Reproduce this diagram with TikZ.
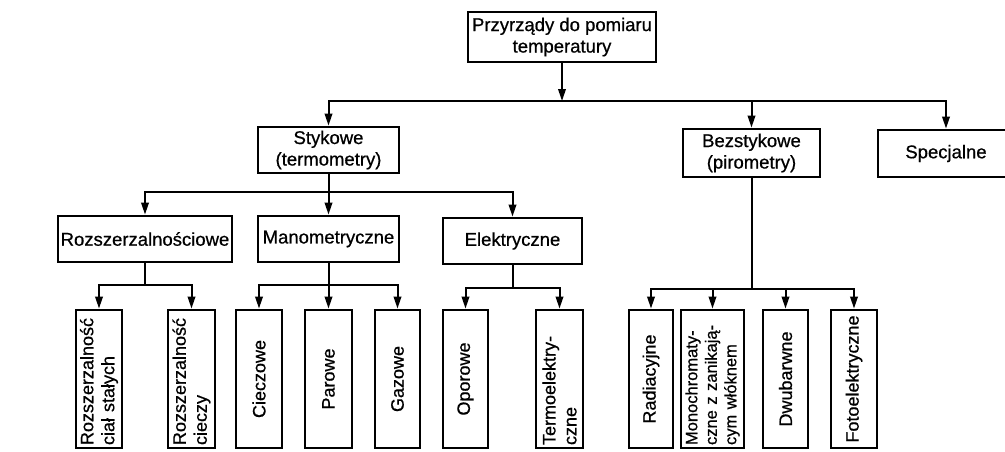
\documentclass[tikz,border=0pt]{standalone}
\usepackage{fontspec}
\setmainfont{Liberation Sans}[FakeBold=0.7]
\usetikzlibrary{arrows.meta}
\begin{document}
\begin{tikzpicture}[x=1pt,y=-1pt,
  hbox/.style={draw, line width=2.8pt, align=center, inner sep=2pt, font=\fontsize{18.5}{21.5}\selectfont},
  vbox/.style={draw, line width=2.8pt, rotate=90, minimum width=138pt, inner sep=1.5pt, font=\fontsize{18}{21}\selectfont},
  vboxl/.style={vbox, align=left, text width=132pt},
  link/.style={line width=2pt},
  arr/.style={link, -{Triangle[length=12pt,width=7.5pt]}}]
\clip (0,0) rectangle (1005,451);
\fill[white] (0,0) rectangle (1005,451);
% level 0-1
\node[hbox, minimum width=188pt, minimum height=50pt] (top) at (562,37) {Przyrządy do pomiaru\\temperatury};
\node[hbox, minimum width=141pt, minimum height=46pt] (styk) at (328.5,150) {Stykowe\\(termometry)};
\node[hbox, minimum width=137pt, minimum height=48pt] (bez) at (751.5,153) {Bezstykowe\\(pirometry)};
\node[hbox, minimum width=136pt, minimum height=47pt] (spec) at (946,153.5) {Specjalne};
% level 2
\node[hbox, minimum width=174pt, minimum height=46pt] (rozs) at (145,239) {Rozszerzalnościowe};
\node[hbox, minimum width=141pt, minimum height=46pt] (mano) at (328.5,239) {Manometryczne};
\node[hbox, minimum width=139pt, minimum height=46pt] (elek) at (512.5,241) {Elektryczne};
% level 3
\node[vboxl, minimum height=46pt] (v1) at (99,379) {Rozszerzalność\\ciał stałych};
\node[vboxl, minimum height=47pt] (v2) at (191.5,379) {Rozszerzalność\\cieczy};
\node[vbox, minimum height=46pt] (v3) at (259,379) {Cieczowe};
\node[vbox, minimum height=47pt] (v4) at (328.5,379) {Parowe};
\node[vbox, minimum height=45pt] (v5) at (397.5,379) {Gazowe};
\node[vbox, minimum height=45pt] (v6) at (465.5,379) {Oporowe};
\node[vboxl, minimum height=47pt] (v7) at (559.5,379) {Termoelektry-\\czne};
\node[vbox, minimum height=44pt] (v8) at (651,379) {Radiacyjne};
\node[vboxl, minimum height=63pt, font=\fontsize{16.5}{19.5}\selectfont] (v9) at (712.5,379) {Monochromaty-\\czne z zanikają-\\cym włóknem};
\node[vbox, minimum height=45pt] (v10) at (785.5,379) {Dwubarwne};
\node[vbox, minimum height=46pt] (v11) at (854,379) {Fotoelektryczne};
% connectors level 1
\coordinate (j0) at (top.south |- 0,101);
\draw[arr] (top.south) -- (j0);
\draw[arr] (j0) -| (styk.north);
\draw[arr] (j0) -| (spec.north);
\draw[arr] (j0 -| bez.north) -- (bez.north);
% level 2
\draw[link] (styk.south) -- (styk.south |- 0,192) coordinate (js);
\draw[arr] (js) -| (rozs.north);
\draw[arr] (js) -| (elek.north);
\draw[arr] (js) -- (mano.north);
% level 3
\draw[link] (rozs.south) -- (rozs.south |- 0,285) coordinate (jr);
\draw[arr] (jr) -| (v1.east);
\draw[arr] (jr) -| (v2.east);
\draw[link] (mano.south) -- (mano.south |- 0,285) coordinate (jm);
\draw[arr] (jm) -| (v3.east);
\draw[arr] (jm) -- (v4.east);
\draw[arr] (jm) -| (v5.east);
\draw[link] (elek.south) -- (elek.south |- 0,288) coordinate (je);
\draw[arr] (je) -| (v6.east);
\draw[arr] (je) -| (v7.east);
\draw[link] (bez.south) -- (bez.south |- 0,289) coordinate (jb);
\draw[arr] (jb) -| (v8.east);
\draw[arr] (jb) -| (v9.east);
\draw[arr] (jb) -| (v10.east);
\draw[arr] (jb) -| (v11.east);
\end{tikzpicture}
\end{document}
